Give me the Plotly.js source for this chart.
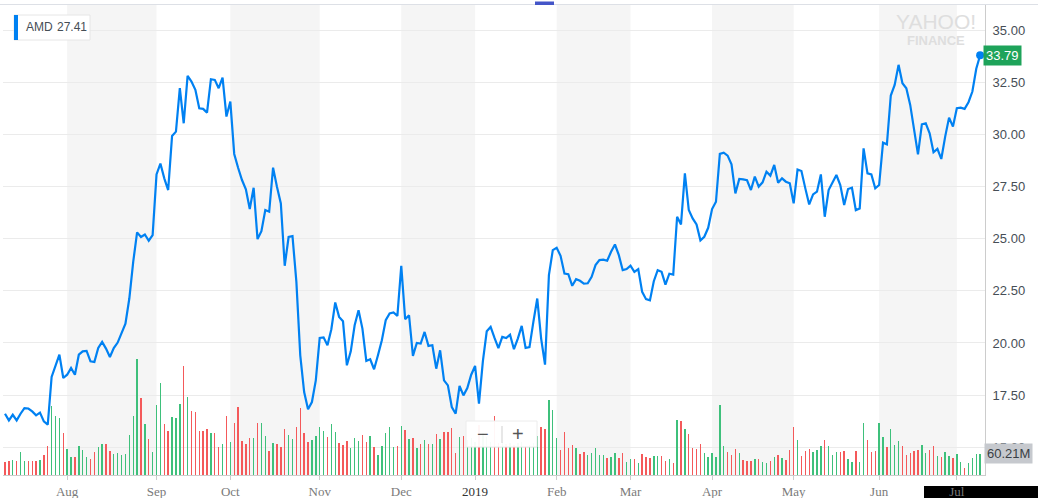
<!DOCTYPE html>
<html><head><meta charset="utf-8">
<script src="https://cdn.plot.ly/plotly-3.0.1.min.js"></script>
<style>html,body{margin:0;padding:0;background:#fff;overflow:hidden}#chart{width:1038px;height:498px}</style>
</head><body><div id="chart"></div>
<script>
// ---- data ----
const ticker = 'AMD';
const legendValue = '27.41';
const startDate = '2018-07-10';
const marketHolidays = ['2018-09-03','2018-11-22','2018-12-05','2018-12-25','2019-01-01',
  '2019-01-21','2019-02-18','2019-04-19','2019-05-27','2019-07-04'];
const closes = [
16.61,16.29,16.56,16.29,16.61,16.88,16.86,16.72,16.53,16.66,
16.24,16.08,18.37,18.93,19.44,18.32,18.48,18.80,18.48,19.44,
19.60,19.62,19.12,19.09,19.76,20.05,19.73,19.33,19.76,20.02,
20.45,20.93,22.13,23.89,25.30,25.08,25.20,24.90,25.17,28.08,
28.60,27.89,27.33,29.92,30.13,32.21,30.53,32.80,32.53,32.13,
31.25,31.22,31.04,32.64,32.61,32.21,32.72,30.85,31.57,29.06,
28.40,27.81,27.36,26.42,27.44,24.98,25.36,26.37,26.29,28.40,
27.49,26.69,23.70,25.08,25.12,22.93,19.41,17.65,16.82,17.17,
18.21,20.24,20.27,19.89,20.66,21.94,21.25,21.04,18.93,19.60,
20.85,21.57,20.69,19.14,19.22,18.74,19.41,20.13,21.09,21.41,
21.46,21.30,23.70,21.14,21.33,19.38,20.00,19.97,20.53,19.86,
19.89,18.77,19.65,18.21,17.97,16.93,16.61,17.94,17.49,17.84,
18.48,18.90,17.09,19.12,20.56,20.77,20.24,19.75,20.29,20.24,
20.40,19.70,20.21,20.82,19.76,19.80,21.01,22.13,20.21,18.96,
23.25,24.45,24.56,24.18,23.33,23.30,22.74,23.06,22.98,22.84,
22.86,23.17,23.73,23.97,23.99,23.94,24.37,24.72,24.21,23.49,
23.54,23.70,23.41,23.54,22.45,22.10,22.04,22.96,23.49,23.41,
22.80,23.32,23.28,26.05,25.68,28.13,26.37,25.97,25.68,24.92,
25.09,25.52,26.42,26.77,29.06,29.12,28.98,28.56,27.17,27.86,
27.84,27.80,27.33,27.97,27.49,27.70,28.21,28.02,28.53,27.68,
27.89,27.73,27.65,26.69,28.31,28.24,27.41,26.64,27.12,27.25,
28.08,26.05,27.33,27.70,28.05,27.57,26.61,27.38,27.44,26.37,
26.45,29.33,28.13,28.08,27.41,27.57,29.60,29.52,31.86,32.37,
33.33,32.45,32.21,31.41,30.29,29.04,30.48,30.53,30.05,29.14,
29.30,28.82,29.89,30.80,30.37,31.25,31.28,31.22,31.54,32.05,
33.14,33.79];
// volume in millions of shares
const volumes = [
36,39,42,39,66,39,39,39,39,42,
56,83,195,165,162,119,73,52,52,83,
71,52,45,66,79,88,86,69,60,63,
55,60,113,165,327,218,144,102,66,196,
260,145,125,164,160,200,307,220,180,177,
124,124,130,118,118,79,88,166,93,147,
192,96,88,103,103,147,147,110,68,90,
88,79,130,113,102,135,189,118,93,99,
110,135,124,107,144,122,91,85,96,77,
105,97,114,94,111,79,55,83,119,136,
80,83,139,127,102,105,77,88,99,88,
86,117,102,122,120,133,63,108,111,99,
103,94,141,118,108,94,165,89,94,86,
89,85,89,94,83,85,89,111,136,130,
212,183,105,71,122,77,85,75,60,66,
56,63,75,56,56,49,50,63,49,63,
38,45,45,35,59,51,49,54,54,54,
39,45,34,155,152,130,116,76,73,87,
62,51,62,51,197,82,65,56,73,62,
42,39,39,45,45,37,34,39,51,56,
48,42,71,135,99,54,68,73,65,71,
82,99,83,55,66,66,68,45,38,68,
38,148,99,66,68,148,108,80,130,85,
96,83,55,62,68,71,85,62,71,82,
54,51,65,54,49,60,38,19,35,49,
60,60.21];
const monthLabels = ['Aug','Sep','Oct','Nov','Dec','2019','Feb','Mar','Apr','May','Jun','Jul'];
const priceTicks = [15,17.5,20,22.5,25,27.5,30,32.5,35];

// ---- trading-day categories ----
function tradingDays(start, n){
  const out=[]; const d=new Date(start+'T00:00:00Z');
  while(out.length<n){
    const s=d.toISOString().slice(0,10); const wd=d.getUTCDay();
    if(wd!==0 && wd!==6 && marketHolidays.indexOf(s)<0) out.push(s);
    d.setUTCDate(d.getUTCDate()+1);
  }
  return out;
}
const dates = tradingDays(startDate, closes.length);
const monthStartIdx=[];
for(let i=1;i<dates.length;i++){ if(dates[i].slice(5,7)!==dates[i-1].slice(5,7)) monthStartIdx.push(i); }
const tickDates = monthStartIdx.map(i=>dates[i]);
const tickText = monthLabels.map(t=> /^\d{4}$/.test(t) ? '<span style="color:#333">'+t+'</span>' : t);

const UP='#3ec07b', DOWN='#f4595a', BLUE='#0081f2';
const barColors = closes.map((c,i)=> (i>0 && c>=closes[i-1]) ? UP : DOWN);

// ---- geometry helpers (pixel -> paper) ----
const W=1038,H=498,M={l:3,r:53,t:5,b:23};
const PW=W-M.l-M.r, PH=H-M.t-M.b;
const px=x=>(x-M.l)/PW, py=y=>(H-M.b-y)/PH;

const shapes=[];
for(let k=0;k+1<monthStartIdx.length;k+=2){
  shapes.push({type:'rect',xref:'x',yref:'paper',x0:monthStartIdx[k],x1:monthStartIdx[k+1],y0:0,y1:1,
    fillcolor:'#f5f5f5',line:{width:0},layer:'below'});
}
shapes.push({type:'line',xref:'paper',yref:'paper',x0:px(0),x1:px(W),y0:py(4.5),y1:py(4.5),line:{color:'#dde0e6',width:1.2}});
shapes.push({type:'rect',xref:'paper',yref:'paper',x0:px(535),x1:px(554),y0:py(5),y1:py(1.5),fillcolor:'#4455c8',line:{width:0}});
shapes.push({type:'rect',xref:'paper',yref:'paper',x0:px(14),x1:px(90),y0:py(40),y1:py(15),fillcolor:'#ffffff',line:{color:'#e6e6e6',width:1}});
shapes.push({type:'rect',xref:'paper',yref:'paper',x0:px(14),x1:px(18),y0:py(40),y1:py(15),fillcolor:BLUE,line:{width:0}});
shapes.push({type:'rect',xref:'paper',yref:'paper',x0:px(466),x1:px(537),y0:py(447),y1:py(421),fillcolor:'rgba(255,255,255,0.95)',line:{color:'#ececec',width:1}});
shapes.push({type:'line',xref:'paper',yref:'paper',x0:px(502),x1:px(502),y0:py(443),y1:py(426),line:{color:'#cfcfcf',width:1}});
shapes.push({type:'rect',xref:'paper',yref:'paper',x0:px(924),x1:px(W+2),y0:py(H+2),y1:py(486),fillcolor:'#000',line:{width:0},layer:'below'});

const F='"Liberation Sans", Arial, sans-serif';
const last=closes.length-1;
const annotations=[
  {xref:'paper',yref:'paper',x:px(24),y:py(27.5),xanchor:'left',yanchor:'middle',showarrow:false,text:ticker,font:{family:F,size:12,color:'#464e56'}},
  {xref:'paper',yref:'paper',x:px(55),y:py(27.5),xanchor:'left',yanchor:'middle',showarrow:false,text:legendValue,font:{family:F,size:12,color:'#464e56'}},
  {xref:'paper',yref:'paper',x:px(936),y:py(21),xanchor:'center',yanchor:'middle',showarrow:false,text:'YAHOO!',font:{family:F,size:21,color:'#dedede'}},
  {xref:'paper',yref:'paper',x:px(936),y:py(40.5),xanchor:'center',yanchor:'middle',showarrow:false,text:'<b>FINANCE</b>',font:{family:F,size:13,color:'#dedede'}},
  {xref:'paper',yref:'y',x:px(983),y:closes[last],xanchor:'left',yanchor:'middle',showarrow:false,text:closes[last].toFixed(2),
    bgcolor:'#1ea35a',borderpad:2,font:{family:F,size:13,color:'#ffffff'}},
  {xref:'paper',yref:'y2',x:px(984),y:volumes[last],xanchor:'left',yanchor:'middle',showarrow:false,text:volumes[last].toFixed(2)+'M',
    bgcolor:'#c6c9ce',borderpad:2,font:{family:F,size:13,color:'#3a3f45'}},
  {xref:'paper',yref:'paper',x:px(483),y:py(434),xanchor:'center',yanchor:'middle',showarrow:false,text:'\u2212',font:{family:F,size:20,color:'#555'}},
  {xref:'paper',yref:'paper',x:px(518),y:py(434),xanchor:'center',yanchor:'middle',showarrow:false,text:'+',font:{family:F,size:20,color:'#555'}}
];

const traces=[
  {type:'bar',x:dates,y:volumes,yaxis:'y2',marker:{color:barColors,line:{color:barColors,width:0}},width:0.36,hoverinfo:'skip'},
  {type:'scatter',mode:'lines',x:dates,y:closes,line:{color:BLUE,width:2.2},hoverinfo:'skip'},
  {type:'scatter',mode:'markers',x:[dates[last]],y:[closes[last]],marker:{color:BLUE,size:8,line:{width:0}},cliponaxis:false,hoverinfo:'skip'}
];

const layout={
  width:W,height:H,margin:M,showlegend:false,paper_bgcolor:'#fff',plot_bgcolor:'#fff',bargap:0,
  xaxis:{type:'category',range:[-0.515,252.25],tickmode:'array',tickvals:tickDates,ticktext:tickText,
    ticks:'outside',ticklen:4,tickcolor:'#cccccc',showline:true,linecolor:'#cccccc',linewidth:1,
    showgrid:false,zeroline:false,tickfont:{family:'"Liberation Serif", "Times New Roman", serif',size:13,color:'#7a7a7a'},fixedrange:true},
  yaxis:{side:'right',range:[13.673,36.198],tickmode:'array',tickvals:priceTicks,tickformat:'.2f',
    showgrid:true,gridcolor:'#ebebeb',gridwidth:1,showline:true,linecolor:'#cccccc',linewidth:1,ticks:'',
    ticklabelstandoff:4,zeroline:false,tickfont:{family:F,size:13,color:'#464e56'},fixedrange:true},
  yaxis2:{overlaying:'y',side:'left',range:[0,1325],visible:false,fixedrange:true},
  shapes:shapes,annotations:annotations,hovermode:false
};
Plotly.newPlot('chart',traces,layout,{staticPlot:true,displayModeBar:false});
</script></body></html>
